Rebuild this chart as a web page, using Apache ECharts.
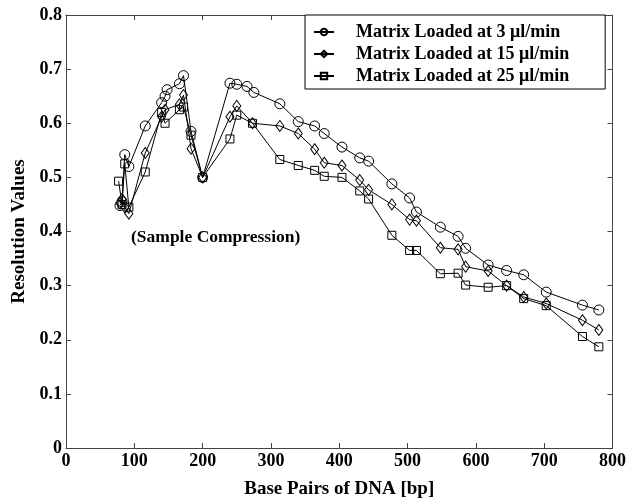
<!DOCTYPE html>
<html>
<head>
<meta charset="utf-8">
<script src="https://cdn.jsdelivr.net/npm/echarts@6/dist/echarts.min.js"></script>
<style>
  html, body { margin: 0; padding: 0; background: #fff; }
  #chart { width: 629px; height: 504px; }
</style>
</head>
<body>
<div id="chart"></div>
<script>
  // 数据
  var bp3  = [79, 82, 86, 92, 116, 140, 145, 148, 166, 172, 183, 200, 240, 250, 265, 275, 313, 340, 364, 378, 404, 430, 443, 477, 503, 513, 548, 574, 585, 618, 645, 670, 703, 756, 780]
  var res3 = [0.448, 0.455, 0.542, 0.520, 0.595, 0.638, 0.650, 0.662, 0.673, 0.688, 0.585, 0.500, 0.674, 0.672, 0.668, 0.657, 0.636, 0.603, 0.595, 0.581, 0.556, 0.536, 0.530, 0.488, 0.462, 0.436, 0.408, 0.391, 0.369, 0.338, 0.328, 0.320, 0.288, 0.264, 0.255]

  var bp15  = [79, 82, 86, 92, 116, 140, 145, 166, 172, 183, 200, 240, 250, 273, 313, 340, 364, 378, 404, 430, 443, 477, 503, 513, 548, 574, 585, 618, 645, 670, 703, 756, 780]
  var res15 = [0.452, 0.460, 0.445, 0.433, 0.545, 0.612, 0.625, 0.635, 0.652, 0.553, 0.500, 0.612, 0.632, 0.600, 0.595, 0.581, 0.552, 0.527, 0.522, 0.495, 0.477, 0.450, 0.422, 0.420, 0.370, 0.367, 0.335, 0.327, 0.300, 0.279, 0.267, 0.236, 0.218]

  var bp25  = [77, 82, 86, 92, 116, 140, 145, 166, 172, 183, 200, 240, 250, 273, 313, 340, 364, 378, 404, 430, 443, 477, 503, 513, 548, 574, 585, 618, 645, 670, 703, 756, 780]
  var res25 = [0.493, 0.450, 0.525, 0.445, 0.510, 0.620, 0.600, 0.625, 0.630, 0.578, 0.500, 0.571, 0.615, 0.600, 0.533, 0.522, 0.513, 0.502, 0.500, 0.475, 0.460, 0.393, 0.365, 0.365, 0.322, 0.323, 0.301, 0.297, 0.300, 0.276, 0.263, 0.206, 0.187]

  var seriesNames = ['Matrix Loaded at 3 μl/min', 'Matrix Loaded at 15 μl/min', 'Matrix Loaded at 25 μl/min']
  var xTicks = [0, 100, 200, 300, 400, 500, 600, 700, 800]
  var yTicks = [0, 0.1, 0.2, 0.3, 0.4, 0.5, 0.6, 0.7, 0.8]

  function zip(xs, ys) {
    return xs.map(function (x, i) { return [x, ys[i]] })
  }

  var serif = '"Liberation Serif", "DejaVu Serif", serif'
  var chart = echarts.init(document.getElementById('chart'))

  function lineSeries(name, data, symbol, size) {
    return {
      name: name,
      type: 'line',
      data: data,
      symbol: symbol,
      symbolSize: size,
      showAllSymbol: true,
      lineStyle: { color: '#000', width: 1 },
      itemStyle: { color: 'rgba(255,255,255,0)', borderColor: '#000', borderWidth: 1 },
      emphasis: { disabled: true },
      animation: false,
      z: 3
    }
  }

  var axisCommon = {
    axisLine: { show: true, onZero: false, lineStyle: { color: '#444', width: 1 } },
    axisTick: { show: true, inside: true, length: 5, lineStyle: { color: '#444' } },
    splitLine: { show: false }
  }

  chart.setOption({
    backgroundColor: '#fff',
    animation: false,
    grid: { left: 66, right: 16, top: 15, bottom: 50 },
    xAxis: [
      Object.assign({
        type: 'value', min: 0, max: 800, interval: 100,
        name: 'Base Pairs of DNA [bp]', nameLocation: 'middle', nameGap: 32,
        nameTextStyle: { fontFamily: serif, fontWeight: 'bold', fontSize: 19, color: '#000' },
        axisLabel: {
          fontFamily: serif, fontWeight: 'bold', fontSize: 18, color: '#000', margin: 4,
          formatter: function (v) { return xTicks.indexOf(v) >= 0 ? String(v) : '' }
        }
      }, axisCommon),
      Object.assign({
        type: 'value', min: 0, max: 800, interval: 100, position: 'top',
        axisLabel: { show: false }
      }, axisCommon)
    ],
    yAxis: [
      Object.assign({
        type: 'value', min: 0, max: 0.8, interval: 0.1,
        name: 'Resolution Values', nameLocation: 'middle', nameGap: 30, nameRotate: 90,
        nameTextStyle: { fontFamily: serif, fontWeight: 'bold', fontSize: 19, color: '#000' },
        axisLabel: {
          fontFamily: serif, fontWeight: 'bold', fontSize: 18, color: '#000', margin: 4,
          formatter: function (v) {
            var t = Math.round(v * 10) / 10
            return yTicks.indexOf(t) >= 0 ? (t === 0 ? '0' : t.toFixed(1)) : ''
          }
        }
      }, axisCommon),
      Object.assign({
        type: 'value', min: 0, max: 0.8, interval: 0.1, position: 'right',
        axisLabel: { show: false }
      }, axisCommon)
    ],
    legend: {
      orient: 'vertical',
      left: 305, top: 15,
      backgroundColor: '#fff',
      borderColor: '#000', borderWidth: 1, borderRadius: 0,
      padding: [8, 36, 4, 8],
      itemGap: 4,
      itemWidth: 20, itemHeight: 8,
      textStyle: { fontFamily: serif, fontWeight: 'bold', fontSize: 18, color: '#000', padding: [0, 0, 0, 17] },
      data: seriesNames
    },
    graphic: [{
      type: 'text',
      left: 131, top: 228,
      style: { text: '(Sample Compression)', font: 'bold 17.5px ' + serif, fill: '#000' }
    }],
    series: [
      lineSeries(seriesNames[0], zip(bp3, res3), 'circle', 10),
      lineSeries(seriesNames[1], zip(bp15, res15), 'diamond', [8, 11]),
      lineSeries(seriesNames[2], zip(bp25, res25), 'rect', 8)
    ]
  })
</script>
</body>
</html>
